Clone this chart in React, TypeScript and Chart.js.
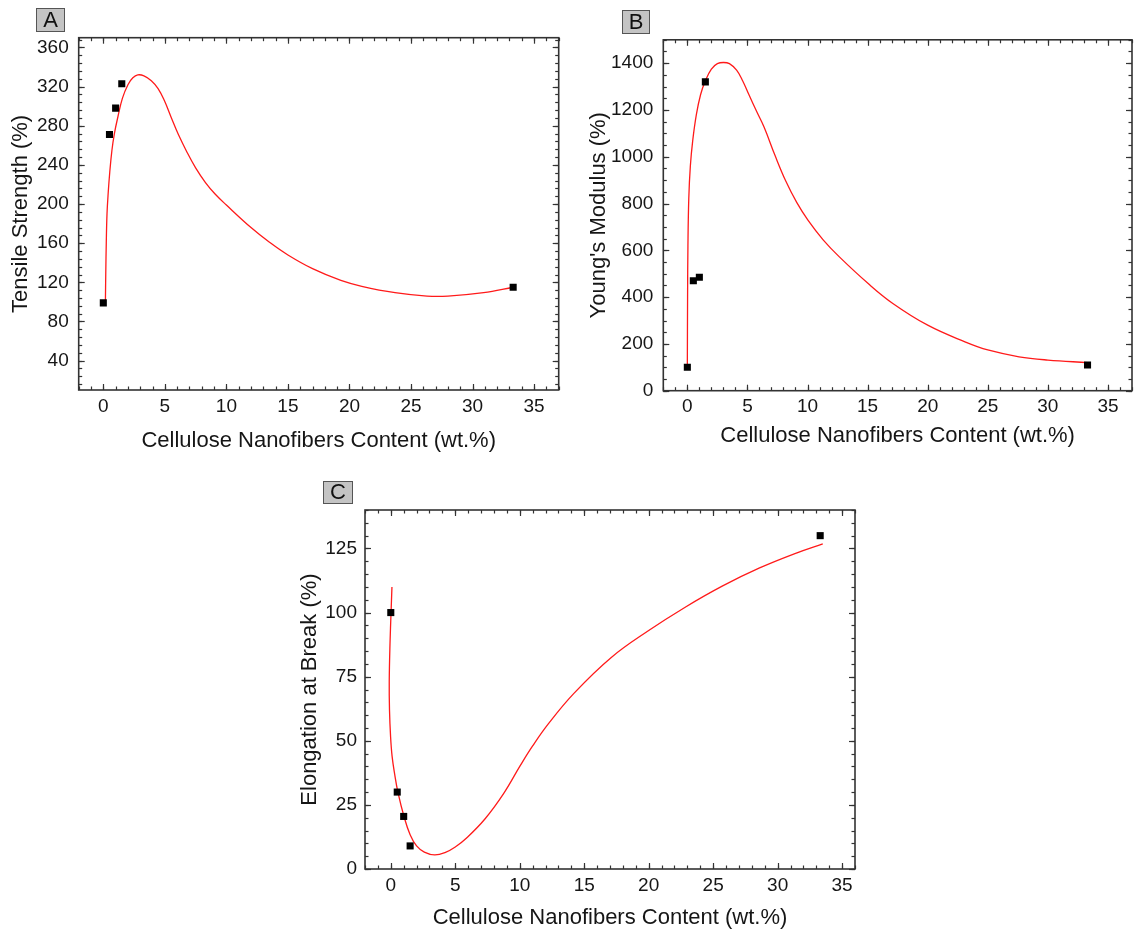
import React, { useEffect, useRef } from "react";
import { Chart, registerables } from "chart.js";

Chart.register(...registerables);

const FONT = "'Liberation Sans', Arial, Helvetica, sans-serif";
const TEXT = "#161616";

// ---------- data ----------
const cnfContent = [0, 0.5, 1, 1.5, 33.3];

const tensileStrength = [99, 271, 298, 323, 115];
const youngsModulus = [100, 470, 485, 1320, 110];
const elongationAtBreak = [100, 30, 20.5, 9, 130];

const fitTensileX = [0.17, 0.2, 0.24, 0.3, 0.4, 0.52, 0.7, 0.9, 1.2, 1.55, 2.0, 2.4, 2.8, 3.3, 3.9, 4.45, 4.95, 5.5, 6.1, 6.8, 7.5, 8.3, 9.1, 10, 12, 13.5, 15, 17, 19.3, 21, 23.7, 26.3, 28, 30.9, 33.3];
const fitTensileY = [100, 130, 160, 190, 212, 232, 255, 272, 290, 308, 322, 329, 332, 331, 326, 318, 306, 289, 271, 253, 237, 222, 210, 199, 176, 161, 148, 134, 122, 116, 109.5, 106, 106, 109.5, 115];

const fitModulusX = [0, 0.02, 0.05, 0.12, 0.25, 0.45, 0.75, 1.1, 1.5, 2.0, 2.5, 3.0, 3.5, 4.1, 4.6, 5.1, 5.8, 6.4, 7.3, 8.2, 9.1, 10.05, 11.3, 12.65, 15.05, 17.1, 20, 23.1, 25, 27.6, 30, 33.3];
const fitModulusY = [105, 400, 620, 820, 960, 1070, 1180, 1265, 1325, 1375, 1398, 1403, 1398, 1370, 1325, 1268, 1190, 1125, 1005, 895, 805, 728, 645, 572, 458, 373, 280, 209, 174, 145, 131, 120];

const fitElongationX = [0.09, 0.02, -0.06, -0.12, -0.1, -0.02, 0.1, 0.3, 0.55, 1.05, 1.5, 2.0, 2.6, 3.4, 4.2, 5.0, 5.9, 7.3, 8.76, 10.06, 11, 12.2, 14.2, 17.1, 20, 22.8, 25.7, 28.6, 31.5, 33.5];
const fitElongationY = [110, 100, 88, 73, 62, 52, 44, 37, 30, 20, 13.4, 9, 6.6, 5.5, 6.4, 8.6, 12.2, 19.5, 29.5, 40.5, 48, 56.5, 68.5, 82.5, 93, 102, 110.3, 117.4, 123.3, 126.8];

const xTickValues = [0, 5, 10, 15, 20, 25, 30, 35];
const yTicksTensile = [40, 80, 120, 160, 200, 240, 280, 320, 360];
const yTicksModulus = [0, 200, 400, 600, 800, 1000, 1200, 1400];
const yTicksElongation = [0, 25, 50, 75, 100, 125];

const xTitle = "Cellulose Nanofibers Content (wt.%)";

// ---------- plugin: frame + inward ticks on all sides ----------
const frameTicks = {
  id: "frameTicks",
  afterDatasetsDraw(chart: any, _args: any, opts: any) {
    const { ctx, chartArea } = chart;
    const { left, right, top, bottom } = chartArea;
    const xs = chart.scales.x;
    const ys = chart.scales.y;
    ctx.save();
    ctx.strokeStyle = "#333";
    ctx.lineWidth = 1.2;
    const seg = (x1: number, y1: number, x2: number, y2: number) => {
      ctx.beginPath();
      ctx.moveTo(x1, y1);
      ctx.lineTo(x2, y2);
      ctx.stroke();
    };
    const ticksFor = (min: number, max: number, step: number) => {
      const out: number[] = [];
      const s = Math.ceil(min / step - 1e-9);
      const e = Math.floor(max / step + 1e-9);
      for (let i = s; i <= e; i++) out.push(i * step);
      return out;
    };
    const drawX = (step: number, len: number) => {
      ticksFor(xs.min, xs.max, step).forEach((v) => {
        const p = Math.round(xs.getPixelForValue(v)) + 0.5;
        seg(p, bottom, p, bottom - len);
        seg(p, top, p, top + len);
      });
    };
    const drawY = (step: number, len: number) => {
      ticksFor(ys.min, ys.max, step).forEach((v) => {
        const p = Math.round(ys.getPixelForValue(v)) + 0.5;
        seg(left, p, left + len, p);
        seg(right, p, right - len, p);
      });
    };
    drawX(opts.xMinor, 3.5);
    drawX(opts.xMajor, 6);
    drawY(opts.yMinor, 3.5);
    drawY(opts.yMajor, 6);
    ctx.lineWidth = 1.6;
    ctx.strokeRect(left, top, right - left, bottom - top);
    ctx.restore();
  },
};

type PanelProps = {
  letter: string;
  box: { left: number; top: number; width: number; height: number };
  canvas: { left: number; top: number; width: number; height: number };
  area: { left: number; right: number; top: number; bottom: number };
  xRange: [number, number];
  yRange: [number, number];
  xMinor: number;
  yMajor: number;
  yMinor: number;
  yTicks: number[];
  yTitle: string;
  yTitlePad: number;
  xTitlePad: number;
  yTickPad: number;
  pointsY: number[];
  fitX: number[];
  fitY: number[];
};

function Panel(p: PanelProps) {
  const ref = useRef<HTMLCanvasElement | null>(null);
  useEffect(() => {
    if (!ref.current) return;
    const W = p.canvas.width;
    const H = p.canvas.height;
    const chart = new Chart(ref.current, {
      type: "scatter",
      data: {
        datasets: [
          {
            type: "line",
            data: p.fitX.map((x, i) => ({ x, y: p.fitY[i] })),
            borderColor: "#ff1a1a",
            borderWidth: 1.3,
            pointRadius: 0,
            fill: false,
            tension: 0.4,
            order: 2,
          } as any,
          {
            type: "scatter",
            data: cnfContent.map((x, i) => ({ x, y: p.pointsY[i] })),
            pointStyle: "rect",
            pointRadius: 5,
            backgroundColor: "#000",
            borderColor: "#000",
            borderWidth: 0,
            order: 1,
          } as any,
        ],
      },
      options: {
        responsive: false,
        animation: false,
        devicePixelRatio: 1,
        layout: {
          padding: { left: 0, top: p.area.top, right: W - p.area.right, bottom: 0 },
        },
        plugins: {
          legend: { display: false },
          tooltip: { enabled: false },
          frameTicks: { xMinor: p.xMinor, xMajor: 5, yMinor: p.yMinor, yMajor: p.yMajor },
        } as any,
        scales: {
          x: {
            type: "linear",
            position: "bottom",
            min: p.xRange[0],
            max: p.xRange[1],
            afterBuildTicks: (s: any) => {
              s.ticks = xTickValues.map((v) => ({ value: v }));
            },
            afterFit: (s: any) => {
              s.height = H - p.area.bottom;
            },
            grid: { display: false, drawTicks: false },
            border: { display: false },
            ticks: {
              font: { family: FONT, size: 19 },
              color: TEXT,
              padding: 5,
              maxRotation: 0,
              autoSkip: false,
              callback: (v: any) => String(v),
            },
            title: {
              display: true,
              text: xTitle,
              font: { family: FONT, size: 22 },
              color: TEXT,
              padding: { top: 0, bottom: p.xTitlePad },
            },
          },
          y: {
            type: "linear",
            position: "left",
            min: p.yRange[0],
            max: p.yRange[1],
            afterBuildTicks: (s: any) => {
              s.ticks = p.yTicks.map((v) => ({ value: v }));
            },
            afterFit: (s: any) => {
              s.width = p.area.left;
            },
            grid: { display: false, drawTicks: false },
            border: { display: false },
            ticks: {
              font: { family: FONT, size: 19 },
              color: TEXT,
              padding: p.yTickPad,
              autoSkip: false,
              callback: (v: any) => String(v),
            },
            title: {
              display: true,
              text: p.yTitle,
              font: { family: FONT, size: 22 },
              color: TEXT,
              padding: { top: p.yTitlePad, bottom: 0 },
            },
          },
        },
      } as any,
      plugins: [frameTicks],
    });
    return () => chart.destroy();
  }, []);

  return (
    <>
      <div
        style={{
          position: "absolute",
          left: p.canvas.left,
          top: p.canvas.top,
          width: p.canvas.width,
          height: p.canvas.height,
        }}
      >
        <canvas ref={ref} width={p.canvas.width} height={p.canvas.height} style={{ display: "block" }} />
      </div>
      <div
        style={{
          position: "absolute",
          left: p.box.left,
          top: p.box.top,
          width: p.box.width,
          height: p.box.height,
          boxSizing: "border-box",
          background: "#c4c4c4",
          border: "1.5px solid #555",
          fontFamily: FONT,
          fontSize: 22,
          lineHeight: `${p.box.height - 3}px`,
          textAlign: "center",
          color: "#111",
        }}
      >
        {p.letter}
      </div>
    </>
  );
}

export default function App() {
  return (
    <div style={{ position: "absolute", left: 0, top: 0, width: 1137, height: 932, background: "#fff" }}>
      <Panel
        letter="A"
        box={{ left: 36, top: 8, width: 29, height: 24 }}
        canvas={{ left: 0, top: 0, width: 570, height: 460 }}
        area={{ left: 78.7, right: 558.7, top: 37.7, bottom: 390 }}
        xRange={[-2, 37]}
        yRange={[10, 370]}
        xMinor={1}
        yMajor={40}
        yMinor={8}
        yTicks={yTicksTensile}
        yTitle="Tensile Strength (%)"
        yTitlePad={8}
        xTitlePad={6}
        yTickPad={10}
        pointsY={tensileStrength}
        fitX={fitTensileX}
        fitY={fitTensileY}
      />
      <Panel
        letter="B"
        box={{ left: 622, top: 10, width: 28, height: 24 }}
        canvas={{ left: 570, top: 0, width: 567, height: 460 }}
        area={{ left: 93.3, right: 565.3, top: 39.8, bottom: 390.7 }}
        xRange={[-2, 37]}
        yRange={[0, 1500]}
        xMinor={1}
        yMajor={200}
        yMinor={50}
        yTicks={yTicksModulus}
        yTitle="Young's Modulus (%)"
        yTitlePad={15.8}
        xTitlePad={10.8}
        yTickPad={10}
        pointsY={youngsModulus}
        fitX={fitModulusX}
        fitY={fitModulusY}
      />
      <Panel
        letter="C"
        box={{ left: 323, top: 481, width: 30, height: 23 }}
        canvas={{ left: 290, top: 470, width: 580, height: 462 }}
        area={{ left: 75, right: 565, top: 40, bottom: 399 }}
        xRange={[-2, 36]}
        yRange={[0, 140]}
        xMinor={1}
        yMajor={25}
        yMinor={5}
        yTicks={yTicksElongation}
        yTitle="Elongation at Break (%)"
        yTitlePad={7.2}
        xTitlePad={1}
        yTickPad={8}
        pointsY={elongationAtBreak}
        fitX={fitElongationX}
        fitY={fitElongationY}
      />
    </div>
  );
}
